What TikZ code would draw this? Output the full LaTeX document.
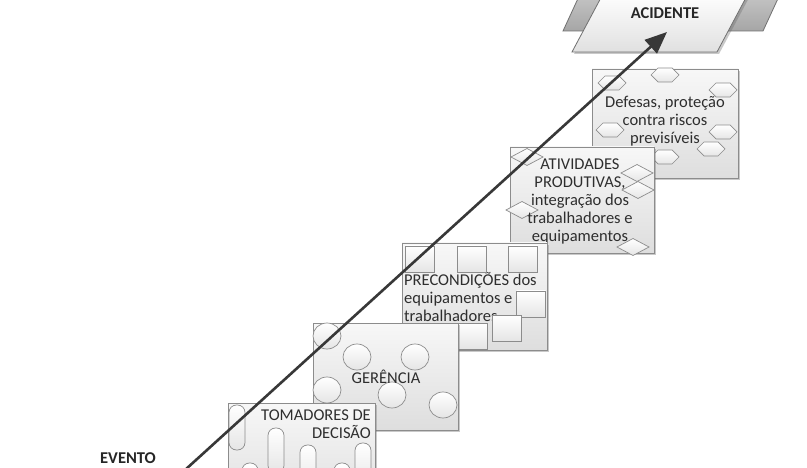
\documentclass[tikz,border=0pt]{standalone}
\usepackage{fontspec}
\setmainfont{Carlito}
\usetikzlibrary{shadows,arrows.meta}
\definecolor{txt}{HTML}{2E2E2E}
\definecolor{edge}{HTML}{8C8C8C}
\definecolor{arr}{HTML}{383838}
\tikzset{
  panel/.style={draw=edge, line width=0.8pt, top color=white!97!black, bottom color=white!87!black,
    drop shadow={shadow xshift=2pt, shadow yshift=-2pt, opacity=0.35, fill=black!60}},
  bit/.style={draw=edge, line width=0.7pt, top color=white, bottom color=white!90!black},
  lab/.style={text=txt, font=\fontsize{16.5}{18}\selectfont, inner sep=0pt},
  boldlab/.style={text=black!85, font=\fontsize{16.5}{18}\selectfont\bfseries, inner sep=0pt},
}
\newcommand\myhex[2]{\path[bit] (#1-14,#2) -- (#1-7,#2-7) -- (#1+7,#2-7) -- (#1+14,#2) -- (#1+7,#2+7) -- (#1-7,#2+7) -- cycle;}
\newcommand\mydia[2]{\path[bit] (#1-16,#2) -- (#1,#2-8.5) -- (#1+16,#2) -- (#1,#2+8.5) -- cycle;}
\newcommand\mysq[2]{\path[bit] (#1-14.5,#2-13) rectangle (#1+14.5,#2+13);}
\newcommand\mycirc[2]{\path[bit] (#1,#2) ellipse [x radius=14pt, y radius=13pt];}
\newcommand\mypill[2]{\path[bit, rounded corners=7.5pt] (#1-8,#2) rectangle (#1+8,#2+45);}
\begin{document}
\begin{tikzpicture}[x=1pt, y=-1pt]
\useasboundingbox (0,0) rectangle (807,468);
\fill[white] (0,0) rectangle (807,468);

% --- box 5
\path[panel] (592,69) rectangle (738,178);
\myhex{612}{83}\myhex{665}{75}\myhex{723}{90}\myhex{610}{130}\myhex{723}{132}\myhex{711}{149}\myhex{665}{157}
\node[lab, align=center] (defesas) at (665,121) {Defesas, proteção\\contra riscos\\previsíveis};

% --- box 4
\path[panel] (510,147) rectangle (654,253);
\mydia{527}{157}\mydia{637}{173}\mydia{638}{190}\mydia{522}{210}\mydia{633}{247}
\node[lab, align=center] (ativ) at (580,201) {ATIVIDADES\\PRODUTIVAS,\\integração dos\\trabalhadores e\\equipamentos};

% --- box 3
\path[panel] (402,243) rectangle (547,350);
\node[lab, align=left, anchor=west] (precond) at (404,297) {PRECONDIÇÕES dos\\equipamentos e\\trabalhadores};
\mysq{420}{259}\mysq{472}{259}\mysq{523}{259}\mysq{531}{304}\mysq{507}{328}\mysq{473}{336}

% --- box 2
\path[panel] (313,323) rectangle (458,430);
\mycirc{327}{336}\mycirc{357}{357}\mycirc{415}{357}\mycirc{327}{390}\mycirc{392}{395}\mycirc{443}{405}
\node[lab] (gerencia) at (386,377) {GERÊNCIA};

% --- box 1
\path[panel] (228,403) rectangle (375,512);
\mypill{237}{405}\mypill{276}{428}\mypill{308}{445}\mypill{363}{443}\mypill{250}{463}\mypill{342}{463}
\node[lab, align=right, anchor=east] (tomadores) at (371,424) {TOMADORES DE\\DECISÃO};

% --- accident
\path[draw=edge!80!black, line width=0.8pt, top color=black!22, bottom color=black!35] (563,31) -- (763,31) -- (781,-8) -- (581,-8) -- cycle;
\path[draw=edge!80!black, line width=0.8pt, top color=white, bottom color=white!88!black,
  drop shadow={shadow xshift=2pt, shadow yshift=-2pt, opacity=0.35, fill=black!60}] (572,52) -- (717,52) -- (749,-8) -- (604,-8) -- cycle;
\node[boldlab] (acidente) at (665,13) {ACIDENTE};

% --- event
\node[boldlab, anchor=base] (evento) at (128,463) {EVENTO};

% --- arrow
\coordinate (evstart) at (185,470);
\coordinate (tip) at (667,32);
\draw[arr, line width=2.6pt, -{Triangle[length=22pt,width=18pt]}] (evstart) -- (tip);
\end{tikzpicture}
\end{document}
